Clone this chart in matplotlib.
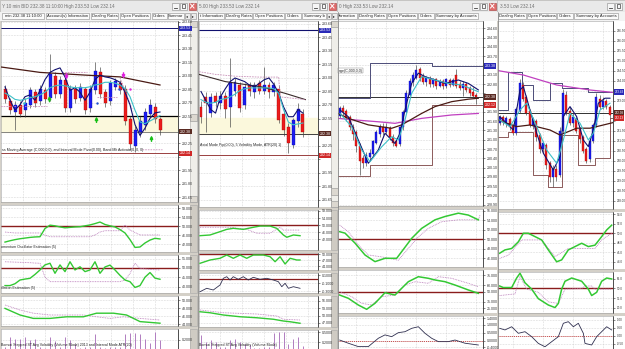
import numpy as np
import matplotlib
matplotlib.use("Agg")
import matplotlib.pyplot as plt
from matplotlib.patches import Rectangle

plt.rcParams['font.family'] = ['Liberation Sans', 'DejaVu Sans']

W, H = 625, 349

# ======================= DATA =======================
# ---------- panel 1 : 10 min ----------
p1_open = [232.86, 232.72, 232.60, 232.68, 232.62, 232.68, 232.82, 232.72, 232.84, 232.76,
           233.00, 232.80, 232.96, 232.64, 232.86, 232.76, 232.86, 232.64, 232.84, 233.04,
           232.82, 232.72, 232.88, 232.92, 232.86, 232.52, 232.22, 232.38, 232.46, 232.58,
           232.66, 232.52]
p1_close = [232.74, 232.62, 232.68, 232.58, 232.70, 232.84, 232.70, 232.86, 232.74, 233.02,
            232.80, 232.96, 232.64, 232.86, 232.74, 232.88, 232.62, 232.86, 233.06, 232.80,
            232.70, 232.92, 232.94, 232.84, 232.50, 232.24, 232.40, 232.50, 232.60, 232.68,
            232.52, 232.40]
p1_high = [232.90, 232.76, 232.72, 232.72, 232.76, 232.88, 232.86, 232.90, 232.88, 233.24,
           233.04, 233.00, 232.98, 232.90, 232.90, 232.92, 232.88, 232.90, 233.16, 233.10,
           232.86, 232.96, 232.98, 232.96, 232.90, 232.56, 232.44, 232.56, 232.64, 232.74,
           232.70, 232.54]
p1_low = [232.70, 232.58, 232.40, 232.54, 232.54, 232.64, 232.66, 232.68, 232.70, 232.72,
          232.76, 232.76, 232.60, 232.60, 232.70, 232.72, 232.58, 232.60, 232.80, 232.76,
          232.66, 232.68, 232.84, 232.80, 232.46, 232.18, 232.16, 232.32, 232.40, 232.54,
          232.48, 232.34]
p1_fast = [232.88, 232.73, 232.62, 232.68, 232.77, 232.79, 232.73, 232.84, 232.96, 233.04,
           233.07, 233.09, 232.99, 232.84, 232.87, 232.82, 232.73, 232.82, 232.96, 233.01,
           232.99, 232.98, 232.96, 232.93, 232.82, 232.68, 232.46, 232.34, 232.42, 232.53,
           232.59, 232.60]
p1_slow = [232.81, 232.78, 232.74, 232.73, 232.74, 232.76, 232.77, 232.79, 232.82, 232.87,
           232.89, 232.90, 232.89, 232.88, 232.87, 232.87, 232.87, 232.88, 232.90, 232.91,
           232.93, 232.93, 232.92, 232.90, 232.86, 232.77, 232.62, 232.49, 232.47, 232.50,
           232.53, 232.56]
p1_long_x = [-0.8, 7, 16, 23, 31]
p1_long = [233.10, 233.04, 233.01, 232.99, 232.90]
p1_env_x = [-0.8, 8.5, np.nan, 11.5, 16.5, np.nan, 18.5, 22.5, np.nan, 23, 25.5, np.nan, 27.5, 31.5]
p1_env = [232.66, 232.66, np.nan, 233.04, 233.04, np.nan, 232.76, 232.76, np.nan, 232.98, 232.62,
          np.nan, 232.18, 232.18]
p1_up_x = [8.9, 18.3, 29.3]
p1_up_y = [232.78, 232.55, 232.34]
p1_dn_x = [12.3, 23.7]
p1_dn_y = [232.96, 232.97]
p1_mdot_x = [25.0]
p1_mdot_y = [232.85]
p1_bdot_x = [18.3, 22.7]
p1_bdot_y = [232.70, 232.86]
p1_cdot_x = [3.7]
p1_cdot_y = [232.70]
p1_high_lvl, p1_band_top, p1_last, p1_low_lvl = 233.53, 232.56, 232.38, 232.14

p1_o1_green = [42.9, 43.5, 44.0, 44.4, 44.7, 45.0, 45.2, 45.3, 49.0, 50.5, 50.2, 49.7, 49.3, 49.5,
               49.7, 49.8, 50.2, 50.6, 51.2, 51.9, 50.8, 50.2, 49.7, 48.5, 47.0, 44.0, 40.5, 40.7,
               42.5, 43.8, 44.6, 44.3]
p1_o1_pink = [47.4, 47.2, 47.0, 47.0, 47.0, 47.0, 47.0, 47.0, 46.0, 45.3, 45.3, 45.3, 45.3, 45.3,
              45.3, 45.3, 45.3, 45.3, 46.1, 47.4, 48.0, 48.0, 48.0, 48.0, 50.6, 48.3, 47.2, 46.1,
              46.1, 46.1, 46.1, 46.1]
p1_o2_green = [40.5, 40.5, 41.5, 43.5, 44.0, 44.4, 46.5, 48.9, 51.6, 52.5, 47.1, 51.6, 48.0, 53.3,
               48.9, 50.6, 48.0, 48.9, 53.3, 47.1, 50.5, 51.5, 48.9, 46.0, 43.5, 42.6, 39.5, 40.5,
               45.0, 47.5, 44.5, 43.9]
p1_o2_pink = [53.3, 53.2, 53.1, 53.0, 52.9, 52.8, 52.6, 52.5, 45.0, 42.6, 42.6, 42.6, 42.6, 42.6,
              42.6, 42.6, 42.6, 42.6, 42.6, 42.6, 42.6, 42.6, 42.6, 42.6, 43.5, 47.0, 52.5, 49.8,
              49.5, 49.2, 49.0, 48.9]
p1_o3_gx = [0, 3, 5.67, 9, 12.3, 15.67, 18.3, 21.7, 24.3, 27, 31]
p1_o3_green = [47.9, 46.25, 45.4, 45.4, 45.8, 45.8, 46.7, 46.7, 46.25, 44.6, 44.2]
p1_o3_px = [0, 3, 5.67, 9, 15.67, 18.3, 21, 23.7, 27, 31]
p1_o3_pink = [48.75, 47.5, 46.7, 46.25, 46.25, 45.8, 45.4, 45.8, 45.4, 45.0]
p1_vol = [0.05, 0.27, 0.22, 0.22, 0.27, 0.20, 0.22, 0.05, 0.03, 0.27, 0.18, 0.05, 0.27, 0.20,
          0.10, 0.03, 0.05, 0.05, 0.33, 0.05, 0.03, 0.05, 0.05, 0.05, 0.33, 0.35, 0.35, 0.33,
          0.22, 0.13, 0.38, 0.20]

# ---------- panel 2 : 5 min ----------
p2_open = [232.68, 232.79, 232.61, 232.80, 232.72, 232.80, 232.68, 232.86, 232.92, 232.70, 232.92,
           232.84, 232.94, 232.86, 232.92, 232.84, 232.88, 232.60, 232.46, 232.26, 232.52, 232.60]
p2_close = [232.57, 232.72, 232.79, 232.73, 232.80, 232.66, 232.94, 232.96, 232.67, 232.90, 232.86,
            232.92, 232.86, 232.92, 232.84, 232.92, 232.53, 232.42, 232.28, 232.53, 232.66, 232.40]
p2_high = [232.74, 232.84, 232.83, 232.84, 232.86, 232.84, 233.22, 233.00, 232.96, 232.94, 232.96,
           232.96, 232.98, 233.12, 232.96, 232.96, 232.92, 232.64, 232.50, 232.56, 232.72, 232.66]
p2_low = [232.50, 232.40, 232.57, 232.68, 232.66, 232.56, 232.46, 232.80, 232.62, 232.66, 232.80,
          232.78, 232.82, 232.82, 232.78, 232.80, 232.50, 232.36, 232.17, 232.22, 232.46, 232.34]
p2_fast = [232.85, 232.75, 232.65, 232.61, 232.79, 232.88, 232.96, 233.00, 232.98, 232.96, 232.92,
           232.90, 232.94, 232.98, 233.00, 232.93, 232.83, 232.68, 232.57, 232.57, 232.65, 232.61]
p2_slow = [232.76, 232.73, 232.72, 232.73, 232.76, 232.77, 232.79, 232.82, 232.86, 232.88, 232.89,
           232.89, 232.89, 232.89, 232.89, 232.88, 232.83, 232.65, 232.51, 232.48, 232.49, 232.50]
p2_long_x = [-0.4, 5, 12.6, 17.3, 21.5]
p2_long = [233.04, 232.96, 232.90, 232.83, 232.76]
p2_env_x = [-0.4, 3, 7, 12, 16, 16.3, 21.5]
p2_env = [233.07, 233.04, 233.02, 233.01, 233.01, 232.79, 232.76]
p2_high_lvl, p2_band_top, p2_last, p2_low_lvl = 233.53, 232.56, 232.38, 232.14

p2_o1_gx = [-0.2, 1.86, 3.92, 5.3, 6.66, 8.72, 10.78, 12.16, 14.23, 15.6, 16.97, 17.67, 19.03, 20.4]
p2_o1_green = [43.9, 44.3, 46.2, 47.5, 48.1, 47.5, 48.7, 49.4, 49.4, 48.1, 44.3, 43.0, 44.3, 43.9]
p2_o1_px = [-0.2, 5.98, 9.42, 11.48, 14.23, 16.29, 16.97, 20.4]
p2_o1_pink = [48.7, 48.7, 47.5, 45.3, 45.3, 48.7, 47.1, 47.1]
p2_o2_gx = [-0.2, 1.86, 3.92, 5.3, 6.66, 8.04, 9.42, 10.78, 12.85, 14.23, 15.26, 16.29, 17.32, 18.35,
            19.73, 20.4]
p2_o2_green = [45.5, 47.15, 48.0, 49.65, 48.0, 49.65, 48.0, 49.65, 49.65, 48.8, 46.3, 48.8, 45.15,
               48.0, 47.15, 47.15]
p2_o3_x = [-0.2, 1.18, 2.54, 3.92, 4.6, 5.3, 5.98, 6.66, 7.69, 8.72, 9.75, 10.78, 12.16, 13.55,
           14.91, 15.94, 16.64, 17.32, 18.0, 19.03, 20.4]
p2_o3 = [-0.31, -0.225, -0.2675, -0.1425, 0.025, 0.065, -0.0175, 0.065, 0.0, 0.065, -0.0175, 0.05,
         0.0, 0.025, -0.0175, -0.06, -0.185, -0.10, -0.225, -0.185, -0.225]
p2_o4_gx = [-0.2, 1.86, 4.6, 8.04, 11.48, 14.91, 16.97, 18.35, 20.4]
p2_o4_green = [51.5, 51.1, 50.2, 49.5, 49.1, 48.5, 47.8, 47.5, 46.9]
p2_o4_px = [-0.2, 4.6, 11.48, 15.6, 16.97, 20.4]
p2_o4_pink = [52.2, 51.1, 50.6, 49.8, 48.5, 48.2]
p2_vol = [0.42, 0.21, 0.27, 0.21, 0.05, 0.05, 0.27, 0.30, 0.21, 0.15, 0.12, 0.03, 0.03, 0.05, 0.05,
          0.48, 0.51, 0.51, 0.15, 0.30, 0.36, 0.10]

# ---------- panel 3 : hourly ----------
p3_open = [231.78, 232.02, 231.92, 231.72, 231.40, 231.25, 230.80, 230.40, 230.25, 230.45, 230.55,
           230.90, 231.20, 231.40, 231.25, 231.38, 231.10, 230.95, 230.85, 231.40, 231.90, 232.45,
           232.85, 233.00, 233.30, 233.05, 232.85, 233.00, 232.80, 232.95, 232.75, 232.90, 232.72,
           232.92, 232.78, 233.10, 232.80, 232.66, 232.80, 232.66, 232.55, 232.45]
p3_close = [232.02, 231.90, 231.70, 231.40, 231.20, 230.80, 230.30, 230.25, 230.50, 230.58, 230.95,
            231.25, 231.40, 231.25, 231.40, 231.10, 230.90, 230.80, 231.40, 231.90, 232.50, 232.90,
            233.10, 233.25, 233.00, 232.85, 233.00, 232.80, 232.95, 232.75, 232.90, 232.72, 232.95,
            232.78, 232.92, 232.75, 232.68, 232.80, 232.62, 232.50, 232.42, 232.38]
p3_high = [232.10, 232.12, 231.98, 231.80, 231.50, 231.30, 230.90, 230.50, 230.60, 230.70, 231.00,
           231.30, 231.50, 231.55, 231.55, 231.45, 231.20, 231.05, 231.45, 231.95, 232.60, 233.00,
           233.20, 233.40, 233.35, 233.15, 233.05, 233.05, 233.00, 233.00, 232.95, 232.95, 233.00,
           233.00, 232.98, 233.30, 232.90, 232.90, 232.85, 232.75, 232.70, 232.50]
p3_low = [231.70, 231.80, 231.60, 231.30, 231.00, 230.60, 229.86, 230.10, 230.15, 230.30, 230.45,
          230.85, 231.10, 231.15, 231.20, 231.00, 230.80, 230.75, 230.80, 231.30, 231.85, 232.40,
          232.75, 232.95, 232.90, 232.80, 232.75, 232.70, 232.70, 232.65, 232.70, 232.65, 232.68,
          232.70, 232.72, 232.68, 232.60, 232.40, 232.55, 232.42, 232.35, 232.14]
p3_fast_x = [0.1, 2.6, 5.6, 8.6, 11.6, 13.6, 16.6, 18.1, 19.6, 21.6, 23.6, 25.6, 28.6, 31.6, 35.6,
             38.6, 41.6]
p3_fast = [231.96, 231.74, 230.99, 230.24, 230.67, 231.21, 230.88, 231.21, 231.96, 232.82, 233.15,
           233.04, 232.93, 232.82, 232.93, 232.82, 232.61]
p3_slow_x = [0.1, 3.6, 6.6, 9.1, 12.6, 15.6, 17.6, 19.6, 21.6, 24.6, 28.6, 32.6, 36.6, 41.6]
p3_slow = [231.85, 231.42, 230.67, 230.29, 230.77, 231.10, 230.99, 231.64, 232.50, 233.04, 232.93,
           232.82, 232.77, 232.55]
p3_long_x = [-0.5, 2.6, 8.6, 15.6, 18.6, 24.6, 28.6, 33.6, 38.6, 41.6]
p3_long = [231.85, 231.69, 231.48, 231.37, 231.48, 231.85, 232.07, 232.23, 232.31, 232.34]
p3_mag_x = [-0.5, 4.6, 11.6, 16.6, 24.6, 33.6, 41.6]
p3_mag = [231.69, 231.64, 231.58, 231.53, 231.69, 231.80, 231.85]
p3_step_x = [-0.5, 9.1, 27.7, 43.0]
p3_res = [232.35, 233.47, 233.38, 233.38]
p3_sup = [229.83, 230.18, 232.12, 232.12]
p3_high_lvl, p3_last, p3_low_lvl = 233.38, 232.38, 232.12

p3_o1_gx = [0, 1.6, 4.6, 7.6, 10.6, 13.6, 17.1, 18.6, 21.6, 24.6, 28.6, 31.6, 35.6, 38.6, 41.6]
p3_o1_green = [51.6, 51.3, 49.2, 46.7, 45.3, 46.0, 46.0, 47.4, 50.2, 52.3, 54.1, 54.8, 55.5, 55.1, 54.1]
p3_o1_px = [0, 2.6, 5.6, 8.6, 12.6, 17.6, 20.6, 23.6, 26.6, 30.6, 35.6, 41.6, 42.1]
p3_o1_pink = [53.0, 51.6, 48.8, 46.7, 46.3, 45.6, 48.1, 50.5, 52.3, 53.7, 54.1, 54.1, 55.1]
p3_o2_gx = [0, 2.6, 5.6, 8.1, 10.6, 13.6, 16.6, 18.6, 20.6, 23.6, 26.6, 28.6, 31.6, 34.6, 38.6, 41.6]
p3_o2_green = [45.0, 40.1, 30.0, 23.6, 32.6, 48.5, 45.0, 55.1, 65.0, 72.5, 70.1, 67.6, 65.0, 60.0,
               52.6, 47.6]
p3_o2_px = [0, 3.6, 6.6, 9.6, 12.6, 16.6, 19.6, 22.6, 26.6, 29.6, 33.6, 38.6, 41.6]
p3_o2_pink = [50.0, 42.5, 32.6, 30.0, 42.5, 45.0, 60.0, 65.0, 62.6, 72.5, 70.1, 62.6, 57.5]
p3_o3_x = [0, 2.6, 5.6, 8.6, 11.6, 13.6, 15.6, 17.6, 19.6, 21.6, 23.6, 25.6, 27.6, 29.6, 32.6, 34.6,
           37.6, 41.6]
p3_o3 = [0.04, -0.16, -0.37, -0.37, 0.15, 0.36, 0.25, 0.5, 0.56, 0.77, 0.87, 0.46, 0.15, -0.06,
         -0.06, 0.04, -0.16, -0.27]

# ---------- panel 4 : 4 hour ----------
p4_open = [231.90, 232.20, 231.95, 232.10, 231.75, 231.40, 232.50, 233.80, 233.20, 232.50, 231.80,
           232.00, 231.30, 230.60, 230.80, 229.90, 229.20, 229.60, 229.30, 231.50, 233.30, 232.50,
           231.90, 232.10, 231.60, 231.20, 230.60, 230.10, 231.00, 231.80, 233.10, 232.70, 233.00,
           232.70]
p4_close = [232.20, 231.95, 232.15, 231.70, 231.40, 232.60, 233.90, 233.10, 232.40, 231.80, 232.10,
            231.20, 230.60, 230.90, 229.80, 229.20, 229.60, 229.20, 231.50, 233.40, 232.40, 231.90,
            232.20, 231.50, 231.10, 230.50, 230.00, 231.00, 231.80, 233.20, 232.70, 233.00, 232.70,
            232.30]
p4_high = [232.30, 232.30, 232.25, 232.20, 231.85, 232.70, 234.10, 233.95, 233.30, 232.60, 232.20,
           232.10, 231.40, 231.00, 230.90, 230.00, 229.80, 229.80, 231.70, 233.60, 233.50, 232.70,
           232.40, 232.20, 231.70, 231.30, 230.70, 231.10, 231.90, 233.40, 233.30, 233.20, 233.10,
           232.80]
p4_low = [231.80, 231.80, 231.70, 231.55, 231.30, 231.30, 232.40, 233.00, 232.30, 231.70, 231.60,
          231.00, 230.40, 230.40, 229.60, 228.95, 228.70, 229.00, 229.20, 231.40, 232.30, 231.80,
          231.70, 231.40, 230.90, 230.40, 229.90, 229.95, 230.90, 231.70, 232.60, 232.60, 232.60,
          232.14]
p4_fast_x = [0, 2.1, 4.1, 6.1, 7.1, 9.1, 11.1, 13.1, 16.1, 18.1, 19.1, 21.1, 23.1, 25.1, 26.6, 28.1,
             29.6, 31.6, 33.1]
p4_fast = [232.20, 231.87, 231.53, 233.53, 233.70, 232.53, 231.37, 230.37, 229.53, 230.20, 232.20,
           232.70, 232.20, 231.03, 230.70, 231.53, 232.87, 233.12, 233.12]
p4_slow_x = [0, 3.1, 6.1, 8.1, 11.1, 14.1, 17.1, 19.1, 21.1, 24.1, 26.6, 28.1, 30.1, 33.1]
p4_slow = [232.03, 231.70, 232.53, 232.87, 231.70, 230.53, 229.87, 231.03, 232.37, 231.87, 231.03,
           231.37, 232.53, 232.87]
p4_long_x = [-0.5, 5.1, 9.1, 15.1, 18.1, 23.1, 27.1, 31.1, 34.0]
p4_long = [232.03, 231.70, 231.78, 231.53, 231.28, 231.62, 231.62, 231.78, 231.90]
p4_mag_x = [-0.5, 7.1, 17.1, 27.1, 34.0]
p4_mag = [234.50, 234.28, 233.78, 233.53, 233.41]
p4_res_x = [-0.5, 2.5, 6.7, 10.0, 15.1, 18.7, 26.5, 34.0]
p4_res = [232.53, 234.43, 233.78, 233.03, 233.88, 233.63, 233.43, 233.43]
p4_sup_x = [-0.5, 2.5, 10.0, 14.5, 18.7, 23.6, 28.6, 33.1, 34.0]
p4_sup = [231.18, 231.43, 229.28, 228.68, 231.28, 229.78, 230.13, 232.13, 232.13]
p4_high_lvl, p4_last, p4_low_lvl = 233.43, 232.38, 232.13

p4_o1_gx = [0, 1.6, 3.6, 5.6, 7.1, 8.6, 10.6, 12.6, 14.6, 17.1, 18.6, 20.6, 22.6, 24.6, 26.6, 28.6,
            30.6, 32.1, 33.6]
p4_o1_green = [45.8, 46.5, 46.8, 48.2, 50.0, 50.0, 49.3, 48.6, 46.5, 44.0, 44.4, 46.5, 47.2, 47.9,
               47.2, 47.5, 49.3, 50.7, 51.7]
p4_o1_px = [0, 2.6, 6.6, 12.6, 16.6, 20.6, 24.6, 28.6, 30.6, 33.6]
p4_o1_pink = [44.7, 45.4, 48.6, 48.6, 45.1, 46.8, 46.8, 46.8, 48.6, 50.0]
p4_o2_gx = [0, 1.1, 3.6, 5.1, 6.1, 7.6, 9.6, 11.6, 14.6, 16.6, 17.6, 18.6, 19.6, 21.6, 24.6, 26.6,
            27.6, 29.1, 30.6, 32.1, 33.6]
p4_o2_green = [53.9, 51.5, 51.5, 66.5, 74.0, 59.0, 49.0, 34.0, 24.0, 20.0, 26.5, 49.0, 61.4, 66.5,
               61.4, 49.0, 38.9, 44.0, 61.4, 66.5, 65.0]
p4_o2_px = [0, 4.6, 6.1, 8.1, 11.6, 14.6, 17.6, 19.6, 24.6, 25.6, 27.6, 28.6, 33.6]
p4_o2_pink = [38.9, 41.5, 68.9, 49.0, 44.0, 29.0, 26.5, 49.0, 50.0, 53.9, 53.9, 49.0, 49.0]
p4_o3_x = [0, 1.6, 3.6, 5.6, 7.6, 9.6, 11.6, 13.6, 15.6, 17.6, 19.1, 20.6, 22.1, 23.6, 25.1, 25.6,
           27.6, 29.1, 30.6, 32.1, 33.6]
p4_o3 = [0.46, 0.36, 0.56, 0.15, 0.25, -0.06, -0.48, -0.69, -0.375, -0.06, 0.775, 0.875, 0.56,
         0.775, 0.15, -0.48, -0.58, -0.06, 0.25, 0.56, 0.36]

# ======================= FIGURE =======================
fig = plt.figure(figsize=(W / 100, H / 100), dpi=100)
fig.patch.set_facecolor('#d4d0c8')
bg = fig.add_axes([0, 0, 1, 1])
bg.set_xlim(0, W)
bg.set_ylim(H, 0)
bg.axis('off')

GREEN = '#33c833'
PINK = '#b878b8'
DRED = '#8a1c1c'
NAVY = '#10106e'
CYAN = '#3cc0c8'
BROWN = '#4a1a14'


def rect(x0, y0, x1, y1, fc, ec='none', lw=0.5):
    bg.add_patch(Rectangle((x0, y0), x1 - x0, y1 - y0, facecolor=fc, edgecolor=ec, linewidth=lw))


def add_ax(x0, y0, x1, y1, xlab_end):
    rect(x1, y0, xlab_end, y1, 'white')
    ax = fig.add_axes([x0 / W, 1 - y1 / H, (x1 - x0) / W, (y1 - y0) / H])
    ax._hpx = y1 - y0
    return ax


def style(ax, xlim, ylim, ticks, fmt, xgrid, avoid=(), lsize=2.6):
    ax.set_facecolor('white')
    ax.set_xlim(*xlim)
    ax.set_ylim(*ylim)
    ax.yaxis.tick_right()
    ppu = ax._hpx / (ylim[1] - ylim[0])
    ticks = list(ticks)
    labels = []
    for t in ticks:
        near = any(abs(t - a) * ppu < 5.0 for a in avoid)
        labels.append('' if near else fmt % t)
    ax.set_yticks(ticks)
    ax.set_yticklabels(labels)
    ax.tick_params(axis='y', labelsize=lsize, length=1.5, width=0.4, pad=1.0, colors='#333333')
    ax.set_xticks(xgrid)
    ax.tick_params(axis='x', length=0, labelbottom=False)
    ax.grid(True, color='#c4c4c4', lw=0.45, ls=(0, (1, 1.5)))
    ax.set_axisbelow(True)
    for s in ('top', 'bottom', 'left'):
        ax.spines[s].set_color('#a0a0a0')
        ax.spines[s].set_linewidth(0.4)
    ax.spines['right'].set_color('#303030')
    ax.spines['right'].set_linewidth(0.6)


def tag(ax, val, txt, fc, size=2.6):
    ax.text(1.012, val, txt, transform=ax.get_yaxis_transform(), fontsize=size, color='white',
            ha='left', va='center', zorder=20, clip_on=False,
            bbox=dict(boxstyle='square,pad=0.18', fc=fc, ec='none'))


def candles(ax, o, h, l, c, w):
    o, h, l, c = map(np.asarray, (o, h, l, c))
    x = np.arange(len(o))
    ax.vlines(x, l, h, colors='#404040', lw=0.45, zorder=3)
    lo = np.minimum(o, c)
    hi = np.maximum(o, c)
    up = c >= o
    ax.bar(x[up], (hi - lo)[up], bottom=lo[up], width=w, color='#1c1cf0', edgecolor='#0000a0',
           lw=0.25, zorder=4)
    ax.bar(x[~up], (hi - lo)[~up], bottom=lo[~up], width=w, color='#ec1c1c', edgecolor='#a00000',
           lw=0.25, zorder=4)


def small_text(ax, x, y, s, box=False):
    kw = dict(transform=ax.transAxes, fontsize=2.6, color='#202020', va='center', ha='left', zorder=25)
    if box:
        kw['bbox'] = dict(boxstyle='square,pad=0.2', fc='white', ec='#808080', lw=0.3)
    ax.text(x, y, s, **kw)


# ---------------- chrome ----------------
frames = [(0, 197), (197, 337), (337, 497), (497, 625)]
titles = ["Y 10 min BID 232.38 11:10:00 High 233.53 Low 232.14",
          "5.00 High 233.53 Low 232.14", "0 High 233.53 Low 232.14", "3.53 Low 232.14"]
title_x = [2, 199, 339, 500]
buttons = [[(172, 'min'), (180, 'max'), (188.5, 'close')],
           [(312, 'min'), (320, 'max'), (328.5, 'close')],
           [(472, 'min'), (480, 'max'), (488.5, 'close')],
           [(607, 'min'), (615, 'max')]]
for (a, b), t, tx, bl in zip(frames, titles, title_x, buttons):
    rect(a, 0, b, 12, '#e9e9e9', ec='#b4b4b4', lw=0.4)
    rect(a, 12, b, 20.5, '#f3f3f3')
    bg.text(tx, 6.2, t, fontsize=3.35, color='#707070', va='center', ha='left')
    for bx, kind in bl:
        if kind == 'close':
            rect(bx, 2.5, bx + 7.5, 9.5, '#e06a6a', ec='#a03a3a', lw=0.4)
            bg.plot([bx + 2, bx + 5.5], [4, 8], color='white', lw=0.7)
            bg.plot([bx + 2, bx + 5.5], [8, 4], color='white', lw=0.7)
        else:
            rect(bx, 2.5, bx + 7, 9.5, '#f6f6f6', ec='#8a8a8a', lw=0.4)
            if kind == 'min':
                bg.plot([bx + 2, bx + 5], [7.6, 7.6], color='#404040', lw=0.6)
            else:
                rect(bx + 2, 4, bx + 5, 7.6, 'none', ec='#404040', lw=0.5)

tabs = [("min 232.38 11:10:00", 2, 44), ("Account(s) Information", 46, 89),
        ("Dealing Rates", 91, 118), ("Open Positions", 120, 150), ("Orders", 151.5, 167),
        ("Summar", 168, 184),
        ("t Information", 198, 224), ("Dealing Rates", 225, 252), ("Open Positions", 253, 284),
        ("Orders", 285, 301), ("Summary b", 302, 326),
        ("formation", 337.5, 357), ("Dealing Rates", 358, 386), ("Open Positions", 387, 417),
        ("Orders", 418, 434), ("Summary by Accounts", 435, 478),
        ("Dealing Rates", 498, 526), ("Open Positions", 527, 556), ("Orders", 557, 573),
        ("Summary by Accounts", 574, 618)]
for txt, a, b in tabs:
    rect(a, 12.8, b, 19.3, '#fbfbfb', ec='#8c8c8c', lw=0.4)
    bg.text((a + b) / 2, 16.1, txt, fontsize=3.0, color='#202020', ha='center', va='center')
for ax0 in (185, 191, 326.5, 332):
    rect(ax0, 12.8, ax0 + 4.5, 19.3, '#ececec', ec='#8c8c8c', lw=0.4)
    bg.text(ax0 + 2.25, 16.1, '\u25b8' if ax0 in (191, 332) else '\u25c2', fontsize=2.6,
            ha='center', va='center', color='#202020', family='DejaVu Sans')

# scrollbars
for sx, top, bot, thumb in ((190, 21, 202, 114), (331, 21, 207, 188)):
    rect(sx, top, sx + 6.5, bot, '#efeee9', ec='#b8b8b8', lw=0.4)
    rect(sx, top, sx + 6.5, top + 6, '#dcd8d0', ec='#909090', lw=0.4)
    rect(sx, bot - 6, sx + 6.5, bot, '#dcd8d0', ec='#909090', lw=0.4)
    rect(sx, thumb, sx + 6.5, thumb + 7, '#dcd8d0', ec='#909090', lw=0.4)

# ---------------- PANEL 1 ----------------
x1lim = (-0.8, 34.6)
x1grid = [3.6, 8.0, 12.4, 16.8, 21.2, 25.6, 30.0]
ax = add_ax(1, 21, 178, 202, 190)
style(ax, x1lim, (231.60, 233.611), np.arange(231.65, 233.61, 0.15), '%.2f', x1grid,
      avoid=(p1_high_lvl, p1_last, p1_low_lvl))
ax.axhspan(p1_last, p1_band_top, color='#fbf8dc', zorder=1)
ax.axhline(p1_high_lvl, color=NAVY, lw=0.7, zorder=2)
ax.axhline(p1_band_top, color='black', lw=0.9, zorder=2)
ax.axhline(p1_last, color='#707070', lw=0.6, zorder=2)
ax.axhline(p1_low_lvl, color='#9a4040', lw=0.7, zorder=2)
ax.plot(p1_long_x, p1_long, color=BROWN, lw=0.9, zorder=5)
ax.plot(p1_env_x, p1_env, color='#c890b8', lw=0.6, ls=(0, (2, 1.2)), zorder=5)
candles(ax, p1_open, p1_high, p1_low, p1_close, 0.6)
ax.plot(np.arange(len(p1_fast)), p1_fast, color=NAVY, lw=0.8, zorder=6)
ax.plot(np.arange(len(p1_slow)), p1_slow, color=CYAN, lw=0.8, zorder=6)
for x, y in zip(p1_up_x, p1_up_y):
    ax.annotate('', xy=(x, y), xytext=(x, y - 0.065),
                arrowprops=dict(arrowstyle='-|>', color='#18c018', lw=1.1, mutation_scale=4,
                                shrinkA=0, shrinkB=0), zorder=8)
for x, y in zip(p1_dn_x, p1_dn_y):
    ax.annotate('', xy=(x, y), xytext=(x, y + 0.065),
                arrowprops=dict(arrowstyle='-|>', color='#e020e0', lw=1.1, mutation_scale=4,
                                shrinkA=0, shrinkB=0), zorder=8)
ax.scatter(p1_mdot_x, p1_mdot_y, s=3, color='#e020e0', zorder=8, lw=0)
ax.scatter(p1_bdot_x, p1_bdot_y, s=3, color='#2050d0', zorder=8, lw=0)
ax.scatter(p1_cdot_x, p1_cdot_y, s=3, color='#30c0d0', zorder=8, lw=0)
small_text(ax, 0.005, 0.287, "ss Moving Average (C,000,0,0), and Interval Mode Pivot(0.00), Band Mlt Activate(0, 0, 0)")
tag(ax, p1_high_lvl, '%.2f' % p1_high_lvl, '#2a2ab8')
tag(ax, p1_last, '%.2f' % p1_last, '#5a2a22')
tag(ax, p1_low_lvl, '%.2f' % p1_low_lvl, '#d02828')

x = np.arange(32)
ax = add_ax(1, 205, 178, 252, 190)
style(ax, x1lim, (38.45, 59.55), [42, 46, 50, 54, 58], '%.3f', x1grid)
ax.axhline(50, color=DRED, lw=1.0, zorder=2)
ax.plot(x, p1_o1_pink, color=PINK, lw=0.6, ls=(0, (1, 1)), zorder=3)
ax.plot(x, p1_o1_green, color=GREEN, lw=1.0, zorder=4)
small_text(ax, 0.0, 0.1, "omentum Oscillator Estimation (5)")
rect(190, 205, 196.5, 252, '#cfcbc3', ec='#a8a8a8', lw=0.4)

ax = add_ax(1, 255, 178, 293, 190)
style(ax, x1lim, (36.52, 56.93), [40, 45, 50, 55], '%.3f', x1grid)
ax.axhline(50, color=DRED, lw=1.0, zorder=2)
ax.plot(x, p1_o2_pink, color=PINK, lw=0.6, ls=(0, (1, 1)), zorder=3)
ax.plot(x, p1_o2_green, color=GREEN, lw=1.0, zorder=4)
small_text(ax, 0.0, 0.12, "illation Estimation (5)")
rect(190, 255, 196.5, 293, '#cfcbc3', ec='#a8a8a8', lw=0.4)

ax = add_ax(1, 296, 178, 326, 190)
style(ax, x1lim, (43.5, 51.0), [44, 46, 48, 50], '%.3f', x1grid)
ax.plot(p1_o3_px, p1_o3_pink, color=PINK, lw=0.6, ls=(0, (1, 1)), zorder=3)
ax.plot(p1_o3_gx, p1_o3_green, color=GREEN, lw=1.0, zorder=4)
rect(190, 296, 196.5, 326, '#cfcbc3', ec='#a8a8a8', lw=0.4)

ax = add_ax(1, 329, 178, 349, 190)
style(ax, x1lim, (0, 0.444), [0.2], '%.4f', x1grid)
ax.vlines(x, 0, p1_vol, colors='#b07cc0', lw=0.7, zorder=3)
small_text(ax, 0.0, 0.22, "Bonsai Stepped ST Avg Volatility (Volume Mode) 2013 and Interval Mode ATR(20)")
rect(190, 329, 196.5, 349, '#cfcbc3', ec='#a8a8a8', lw=0.4)

# ---------------- PANEL 2 ----------------
x2lim = (-0.41, 24.1)
x2grid = [4.0, 8.5, 13.0, 17.5, 22.0]
ax = add_ax(199, 21, 318, 207, 331)
style(ax, x2lim, (231.567, 233.633), np.arange(231.65, 233.61, 0.15), '%.2f', x2grid,
      avoid=(p2_high_lvl, p2_last, p2_low_lvl))
ax.axhspan(p2_last, p2_band_top, color='#fbf8dc', zorder=1)
ax.axhline(p2_high_lvl, color=NAVY, lw=0.8, zorder=2)
ax.axhline(p2_last, color='#404040', lw=0.7, zorder=2)
ax.axhline(p2_low_lvl, color='#9a4040', lw=0.7, zorder=2)
ax.plot(p2_long_x, p2_long, color='#3a2a2a', lw=0.8, zorder=5)
ax.plot(p2_env_x, p2_env, color='#c890b8', lw=0.6, ls=(0, (2, 1.2)), zorder=5)
candles(ax, p2_open, p2_high, p2_low, p2_close, 0.6)
ax.plot(np.arange(len(p2_fast)), p2_fast, color=NAVY, lw=0.8, zorder=6)
ax.plot(np.arange(len(p2_slow)), p2_slow, color=CYAN, lw=0.8, zorder=6)
small_text(ax, 0.005, 0.333, "Axial Mode Pip(0.00), 5 Volatility Mode, ATR(20) 1)")
tag(ax, p2_high_lvl, '%.2f' % p2_high_lvl, '#2a2ab8')
tag(ax, p2_last, '%.2f' % p2_last, '#5a2a22')
tag(ax, p2_low_lvl, '%.2f' % p2_low_lvl, '#d02828')

ax = add_ax(199, 210, 318, 250, 331)
style(ax, x2lim, (35.72, 58.57), [42, 46, 50, 54, 58], '%.3f', x2grid)
ax.axhline(50, color=DRED, lw=1.0, zorder=2)
ax.plot(p2_o1_px, p2_o1_pink, color=PINK, lw=0.6, ls=(0, (1, 1)), zorder=3)
ax.plot(p2_o1_gx, p2_o1_green, color=GREEN, lw=1.0, zorder=4)
rect(331, 210, 337, 250, '#cfcbc3', ec='#a8a8a8', lw=0.4)

ax = add_ax(199, 253, 318, 270, 331)
style(ax, x2lim, (42.15, 50.65), [44, 47, 50], '%.3f', x2grid)
ax.axhline(50, color=DRED, lw=1.0, zorder=2)
ax.plot(p2_o2_gx, p2_o2_green, color=GREEN, lw=1.0, zorder=4)
rect(331, 253, 337, 270, '#cfcbc3', ec='#a8a8a8', lw=0.4)

ax = add_ax(199, 273, 318, 293, 331)
style(ax, x2lim, (-0.3425, 0.1575), [0.1, -0.1, -0.3], '%.4f', x2grid)
ax.axhline(0, color=DRED, lw=0.9, zorder=2)
ax.plot(p2_o3_x, p2_o3, color='#303050', lw=0.6, zorder=4)
rect(331, 273, 337, 293, '#cfcbc3', ec='#a8a8a8', lw=0.4)

ax = add_ax(199, 296, 318, 327, 331)
style(ax, x2lim, (45.4, 57.8), [47, 50, 53, 56], '%.3f', x2grid)
ax.plot(p2_o4_px, p2_o4_pink, color=PINK, lw=0.6, ls=(0, (1, 1)), zorder=3)
ax.plot(p2_o4_gx, p2_o4_green, color=GREEN, lw=1.0, zorder=4)
rect(331, 296, 337, 327, '#cfcbc3', ec='#a8a8a8', lw=0.4)

ax = add_ax(199, 330, 318, 349, 331)
style(ax, x2lim, (0, 0.57), [0.2, 0.5], '%.4f', x2grid)
ax.vlines(np.arange(len(p2_vol)), 0, p2_vol, colors='#b07cc0', lw=0.7, zorder=3)
small_text(ax, 0.0, 0.22, "Bonsai Stepped ST Avg Volatility (Volume Mode)")
rect(331, 330, 337, 349, '#cfcbc3', ec='#a8a8a8', lw=0.4)

# ---------------- PANEL 3 ----------------
x3lim = (-0.5, 43.0)
x3grid = [5, 14, 23, 32, 41]
ax = add_ax(338, 21, 483, 206, 497)
style(ax, x3lim, (228.86, 234.835), np.arange(228.90, 234.81, 0.30), '%.2f', x3grid,
      avoid=(p3_high_lvl, p3_last, p3_low_lvl))
ax.axhline(p3_last, color='#303030', lw=0.7, zorder=2)
ax.step(p3_step_x, p3_res, where='post', color='#4c4c78', lw=0.7, zorder=2)
ax.step(p3_step_x, p3_sup, where='post', color='#8c5a5a', lw=0.7, zorder=2)
ax.plot(p3_mag_x, p3_mag, color='#c040c0', lw=0.9, zorder=5)
ax.plot(p3_long_x, p3_long, color=BROWN, lw=0.9, zorder=5)
candles(ax, p3_open, p3_high, p3_low, p3_close, 0.6)
ax.plot(p3_fast_x, p3_fast, color=NAVY, lw=0.8, zorder=6)
ax.plot(p3_slow_x, p3_slow, color=CYAN, lw=0.8, zorder=6)
small_text(ax, 0.005, 0.732, "nge(C,000,0,0)", box=True)
tag(ax, p3_high_lvl, '%.2f' % p3_high_lvl, '#2a2ab8')
tag(ax, p3_last, '%.2f' % p3_last, '#5a2a22')
tag(ax, p3_low_lvl, '%.2f' % p3_low_lvl, '#d02828')

ax = add_ax(338, 209, 483, 267, 497)
style(ax, x3lim, (44.17, 56.38), [46, 48, 50, 52, 54, 56], '%.3f', x3grid)
ax.axhline(50, color=DRED, lw=1.0, zorder=2)
ax.plot(p3_o1_px, p3_o1_pink, color=PINK, lw=0.6, ls=(0, (1, 1)), zorder=3)
ax.plot(p3_o1_gx, p3_o1_green, color=GREEN, lw=1.1, zorder=4)

ax = add_ax(338, 270, 483, 313, 497)
style(ax, x3lim, (18.05, 82.55), [25, 35, 50, 60, 75], '%.3f', x3grid)
ax.axhline(50, color=DRED, lw=1.0, zorder=2)
ax.plot(p3_o2_px, p3_o2_pink, color=PINK, lw=0.6, ls=(0, (1, 1)), zorder=3)
ax.plot(p3_o2_gx, p3_o2_green, color=GREEN, lw=1.1, zorder=4)

ax = add_ax(338, 316, 483, 349, 497)
style(ax, x3lim, (-0.52, 1.54), [-0.4, 0.0, 0.5, 1.0, 1.4], '%.4f', x3grid)
ax.axhline(0, color='#c84848', lw=0.7, ls=(0, (1, 1)), zorder=2)
ax.plot(p3_o3_x, p3_o3, color='#303050', lw=0.6, zorder=4)

# ---------------- PANEL 4 ----------------
x4lim = (-0.5, 34.0)
x4grid = [4, 13, 22, 31]
ax = add_ax(498, 21, 613, 209, 625)
style(ax, x4lim, (227.58, 236.98), np.arange(228.0, 236.9, 0.5), '%.2f', x4grid,
      avoid=(p4_high_lvl, p4_last, p4_low_lvl), lsize=2.2)
ax.axhline(p4_last, color='#303030', lw=0.7, zorder=2)
ax.step(p4_res_x, p4_res, where='post', color='#4c4c78', lw=0.7, zorder=2)
ax.step(p4_sup_x, p4_sup, where='post', color='#8c5a5a', lw=0.7, zorder=2)
ax.plot(p4_mag_x, p4_mag, color='#c040c0', lw=0.9, zorder=5)
ax.plot(p4_long_x, p4_long, color=BROWN, lw=0.9, zorder=5)
candles(ax, p4_open, p4_high, p4_low, p4_close, 0.6)
ax.plot(p4_fast_x, p4_fast, color=NAVY, lw=0.8, zorder=6)
ax.plot(p4_slow_x, p4_slow, color=CYAN, lw=0.8, zorder=6)
tag(ax, p4_high_lvl, '%.2f' % p4_high_lvl, '#2a2ab8', size=2.2)
tag(ax, p4_last, '%.2f' % p4_last, '#5a2a22', size=2.2)
tag(ax, p4_low_lvl, '%.2f' % p4_low_lvl, '#d02828', size=2.2)

ax = add_ax(498, 212, 613, 269, 625)
style(ax, x4lim, (42.48, 54.48), [44, 46, 48, 50, 52, 54], '%.1f', x4grid, lsize=2.2)
ax.axhline(50, color=DRED, lw=1.0, zorder=2)
ax.plot(p4_o1_px, p4_o1_pink, color=PINK, lw=0.6, ls=(0, (1, 1)), zorder=3)
ax.plot(p4_o1_gx, p4_o1_green, color=GREEN, lw=1.1, zorder=4)

ax = add_ax(498, 272, 613, 313, 625)
style(ax, x4lim, (11.45, 75.95), [20, 35, 50, 65], '%.1f', x4grid, lsize=2.2)
ax.axhline(50, color=DRED, lw=1.0, zorder=2)
ax.plot(p4_o2_px, p4_o2_pink, color=PINK, lw=0.6, ls=(0, (1, 1)), zorder=3)
ax.plot(p4_o2_gx, p4_o2_green, color=GREEN, lw=1.1, zorder=4)

ax = add_ax(498, 316, 613, 349, 625)
style(ax, x4lim, (-0.83, 1.23), [-0.5, 0.0, 0.5, 1.0], '%.2f', x4grid, lsize=2.2)
ax.axhline(0, color='#c84848', lw=0.7, ls=(0, (1, 1)), zorder=2)
ax.plot(p4_o3_x, p4_o3, color='#303050', lw=0.6, zorder=4)

# panel separator lines
for sx in (197.5, 337.5, 497.5):
    fig.add_artist(plt.Line2D([sx / W, sx / W], [0, 1 - 12 / H], color='#808080', lw=0.5))

fig.savefig('out.png', dpi=100, facecolor=fig.get_facecolor())
